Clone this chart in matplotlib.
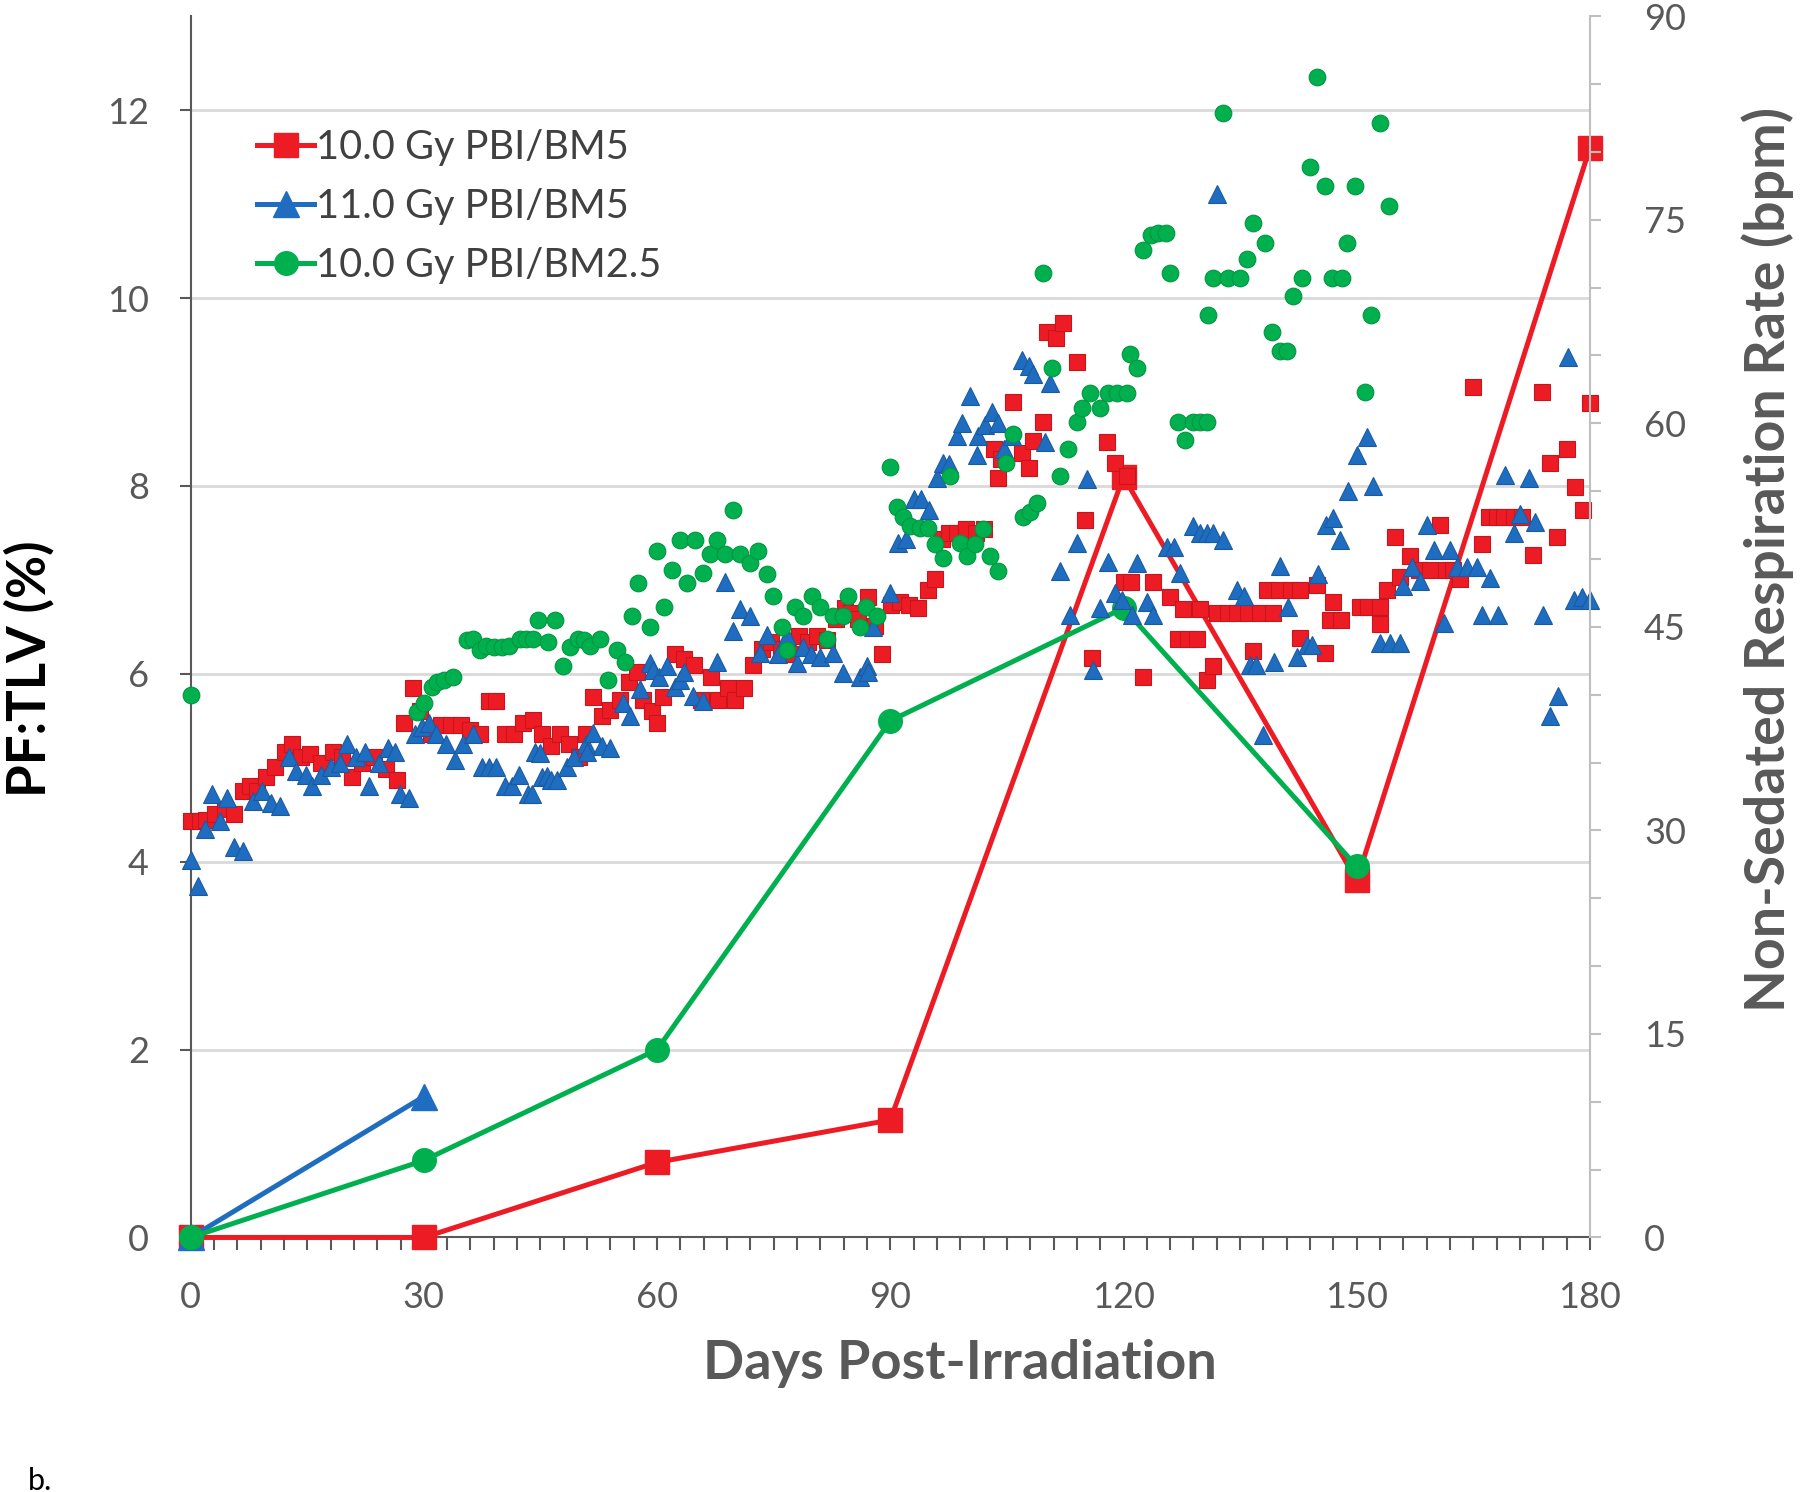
import matplotlib
matplotlib.use("Agg")
import matplotlib.pyplot as plt
from matplotlib.ticker import MultipleLocator

plt.rcParams['font.family'] = ['Lato', 'DejaVu Sans']

# PF:TLV (%) lines, left axis
line_days = [0, 30, 60, 90, 120, 150, 180]
red_pf = [0, 0, 0.8, 1.25, 8.1, 3.8, 11.6]
blue_pf = [0, 1.5]
green_pf = [0, 0.82, 2.0, 5.5, 6.7, 3.95]

# respiration rate (bpm), right axis
red_days = [0, 1.2, 2, 3.2, 4.4, 5.6, 6.8, 7.7, 8.6, 9.7, 10.9, 12.1, 13, 14.2, 15.4, 16.8, 18.3, 19.5,
            20.7, 22.1, 23.6, 25.1, 26.6, 27.5, 28.6, 29.5, 30.9, 32.2, 33.5, 34.8, 36, 37.2, 38.4, 39.3,
            40.5, 41.6, 42.8, 44, 45.2, 46.4, 47.5, 48.7, 49.9, 50.8, 51.7, 52.9, 54, 55.2, 56.4, 57.4,
            58.2, 59.4, 60, 60.8, 62.3, 63.5, 64.7, 65.6, 67, 67.9, 69.1, 70, 71.2, 72.3, 73.5, 74.7,
            75.9, 77.1, 78.3, 79.4, 80.6, 81.8, 83, 84.2, 85, 85.9, 87.1, 88, 88.9, 90.1, 91.3, 92.4,
            93.6, 94.8, 95.7, 96.6, 97.5, 98.6, 99.8, 101, 102.1, 103.4, 103.8, 104.3, 105.8, 106.9,
            107.8, 108.4, 109.7, 110.2, 111.3, 112.2, 114, 115.1, 115.9, 117.9, 118.9, 120.4, 120,
            121, 122.5, 123.8, 126, 127, 127.7, 128.3, 129.5, 129.8, 130.8, 131.5, 132, 133.5, 134.6,
            136, 136.7, 137.5, 138.4, 139.2, 140, 141.5, 142.7, 142.7, 144.9, 145.9, 146.6, 147, 148,
            150.4, 151.5, 153, 153, 153.9, 154.9, 155.6, 156.9, 158, 159.4, 160.7, 161.5, 162.4, 163.3,
            165, 166.1, 167, 168, 169, 170.2, 171.3, 172.7, 173.8, 174.9, 175.8, 177, 178.1, 179.1, 180]
red_bpm = [30.7, 30.7, 30.8, 31.2, 31.6, 31.2, 32.9, 33.3, 32.9, 33.9, 34.7, 35.8, 36.4, 35.4, 35.6, 35, 35.8, 35.4,
           33.9, 35, 35.4, 34.5, 33.7, 37.9, 40.5, 38.8, 37.1, 37.8, 37.8, 37.8, 37.4, 37.1, 39.5, 39.5,
           37.1, 37.1, 37.9, 38.1, 37.1, 36.2, 37.1, 36.4, 35.4, 37.1, 39.8, 38.4, 38.9, 39.6, 40.9, 41.7,
           39.6, 38.8, 37.9, 39.8, 43, 42.6, 42.2, 39.6, 41.3, 39.6, 40.5, 39.6, 40.5, 42.2, 43.4, 43.9,
           43.4, 43, 44.3, 43.9, 44.3, 44, 45.6, 46.4, 46, 45.6, 47.2, 45.1, 43, 46.6, 46.8, 46.6,
           46.4, 47.7, 48.5, 51.5, 51.9, 51.9, 52.2, 51.9, 52.2, 58.1, 56, 57.4, 61.6, 57.8,
           56.7, 58.7, 60.1, 66.7, 66.3, 67.4, 64.5, 52.9, 42.7, 58.6, 57.1, 56.1, 48.3,
           48.3, 41.3, 48.3, 47.2, 44.1, 46.3, 44.1, 44.1, 46.3, 41.1, 42.1, 46, 46, 46,
           46, 43.2, 46, 47.7, 46, 47.7, 47.7, 44.2, 47.7, 48.1, 43.1, 45.5, 46.8, 45.5,
           46.5, 46.5, 46.5, 45.2, 47.7, 51.6, 48.7, 50.2, 49.2, 49.2, 52.5, 49.2, 49.2, 48.5,
           62.7, 51.1, 53.1, 53.1, 53.1, 53.1, 53.1, 50.3, 62.3, 57.1, 51.6, 58.1, 55.3, 53.6, 61.5]

blue_days = [0, 0.9, 1.8, 2.7, 3.8, 4.7, 5.6, 6.8, 8, 9.2, 10.3, 11.5, 12.7, 13.6, 14.8, 15.6, 16.8, 18,
             19.2, 20.1, 21.3, 22.4, 23, 24.2, 25.4, 26.3, 26.9, 28.1, 28.9, 29.8, 30.7, 31.6, 32.8, 34,
             35.1, 36.3, 37.5, 38.4, 39.3, 40.5, 41.3, 42.2, 43.4, 43.9, 44.3, 45, 45.2, 45.8, 46.4, 47.1,
             48.4, 49.3, 50.8, 51, 51.8, 52.9, 54, 55.6, 56.5, 57.8, 59.1, 59.5, 60.2, 61.3, 62.3, 63,
             63.5, 64.6, 65.9, 67.7, 68.7, 69.8, 70.7, 72, 73.3, 74.2, 75.5, 76.7, 78, 78.8, 79.8, 81,
             82.6, 83.9, 86.1, 87, 87.1, 87.8, 90, 91, 92, 93, 94, 95, 96, 96.8, 97.5, 98.6, 99.2, 100.2,
             101.1, 101.3, 102.2, 103.1, 103.8, 104.6, 105.7, 106.9, 107.8, 108.4, 109.9, 110.6, 111.8,
             113.1, 114, 115.3, 116.1, 117, 118, 118.9, 119.8, 121.1, 121.7, 123, 123.8, 125.6, 126.5,
             127.3, 129, 129.8, 130.7, 131.5, 132, 132.8, 134.6, 135.5, 136.3, 137, 138, 139.3, 140.1,
             141.2, 142.3, 143.6, 144.3, 145, 146.1, 146.9, 147.8, 148.9, 150, 151.3, 152.1, 153, 154.3,
             155.6, 156, 157.1, 158.2, 159, 159.9, 161.2, 162, 162.9, 164.2, 165.5, 166.1, 167.1, 168.2,
             169.1, 170.2, 171, 172.1, 172.9, 174, 174.9, 175.9, 177.2, 177.9, 179, 180]
blue_bpm = [27.8, 25.9, 30.1, 32.7, 30.7, 32.4, 28.8, 28.5, 32.2, 32.9, 32, 31.8, 35.4, 34.4, 34.1, 33.3, 34.1, 34.7,
            35, 36.4, 35.4, 35.8, 33.3, 35, 36.1, 35.8, 32.7, 32.4, 37.1, 37.6, 37.9, 37.1, 36.4, 35.2,
            36.4, 37.1, 34.7, 34.7, 34.7, 33.3, 33.3, 34.1, 32.7, 32.7, 35.8, 35.7, 33.9, 34, 33.7, 33.7,
            34.7, 35.4, 36.4, 35.8, 37.2, 36.2, 36.1, 39.4, 38.4, 40.4, 42.3, 41.8, 41.3, 42.1, 40.6, 41.1,
            41.7, 39.9, 39.5, 42.4, 48.3, 44.7, 46.3, 45.8, 43.1, 44.4, 43, 44.3, 42.3, 43.5, 43, 42.8,
            43.1, 41.6, 41.3, 42.1, 41.7, 45, 47.5, 51.2, 51.5, 54.4, 54.4, 53.6, 56, 57.1, 57, 59.1, 60, 62,
            57.7, 59.1, 59.9, 60.8, 60, 58.1, 59.1, 64.7, 64.2, 63.6, 58.6, 63, 49.1,
            45.9, 51.2, 55.9, 41.8, 46.4, 49.8, 47.5, 47, 45.9, 49.7, 46.8, 45.9, 50.9, 50.9,
            49, 52.4, 51.9, 51.9, 51.9, 76.9, 51.4, 47.7, 47.3, 42.2, 42.2, 37, 42.4, 49.5,
            46.5, 42.8, 43.7, 43.7, 48.9, 52.5, 53, 51.4, 55, 57.7, 59, 55.4, 43.8, 43.8,
            43.8, 48, 49.4, 48.4, 52.5, 50.7, 45.3, 50.7, 49.4, 49.4, 49.4, 45.9, 48.6, 45.9,
            56.2, 51.9, 53.3, 56, 52.7, 45.9, 38.4, 39.9, 64.9, 47, 47.2, 47]

green_days = [0, 29.1, 30, 31, 31.7, 32.6, 33.8, 35.5, 36.3, 37.2, 38, 39, 40, 41, 42.4, 43.2, 44, 44.7, 46,
              46.9, 47.9, 48.8, 49.8, 50.6, 51.4, 52.7, 53.7, 54.8, 55.9, 56.8, 57.6, 59.1, 60, 60.9, 61.9,
              63, 63.8, 64.9, 65.9, 66.8, 67.7, 68.7, 69.8, 70.7, 72, 73, 74.1, 74.9, 76.1, 76.7, 77.7,
              78.8, 79.9, 81, 81.8, 82.6, 83.9, 84.6, 86.1, 86.9, 88.3, 90, 90.9, 91.7, 92.6, 93.8, 94.8,
              95.7, 96.8, 97.7, 99, 99.9, 100.9, 101.9, 102.8, 103.9, 104.9, 105.8, 107.1, 108, 108.9,
              109.7, 110.8, 111.8, 112.9, 114, 114.7, 115.7, 117, 118, 119.2, 120.4, 120.8, 121.7, 122.5,
              123.5, 124.5, 125.5, 126, 127, 127.9, 129, 129.8, 130.7, 130.9, 131.5, 132.8, 133.5, 135,
              135.9, 136.7, 138.2, 139.1, 140.1, 141, 141.8, 142.9, 144, 144.9, 145.9, 146.8, 148.1,
              148.7, 149.8, 151.1, 151.9, 153, 154.1]
green_bpm = [40, 38.7, 39.4, 40.6, 40.9, 41.1, 41.3, 44, 44.1, 43.3, 43.6, 43.5, 43.5, 43.6, 44.1, 44.1, 44.1, 45.5, 43.9,
             45.5, 42.1, 43.5, 44.1, 44, 43.6, 44.1, 41.1, 43.3, 42.4, 45.8, 48.2, 45, 50.6, 46.5, 49.2,
             51.4, 48.2, 51.4, 49, 50.4, 51.4, 50.4, 53.6, 50.4, 49.7, 50.6, 48.9, 47.3, 45, 43.3, 46.5,
             45.8, 47.3, 46.5, 44.1, 45.8, 45.8, 47.3, 45, 46.5, 45.8, 56.8, 53.8, 53.1, 52.4, 52.3, 52.3,
             51.1, 50.1, 56.1, 51.2, 50.2, 51.1, 52.2, 50.2, 49.1, 57.1, 59.2, 53.1, 53.5, 54.1,
             71.1, 64.1, 56.1, 58.1, 60.1, 61.1, 62.2, 61.1, 62.2, 62.2, 62.2, 65.1, 64.1, 72.8,
             73.9, 74, 74, 71.1, 60.1, 58.8, 60.1, 60.1, 60.1, 68, 70.7, 82.9, 70.7, 70.7,
             72.1, 74.8, 73.3, 66.7, 65.3, 65.3, 69.4, 70.7, 78.9, 85.5, 77.5, 70.7, 70.7,
             73.3, 77.5, 62.3, 68, 82.1, 76]

labels = ['10.0 Gy PBI/BM5', '11.0 Gy PBI/BM5', '10.0 Gy PBI/BM2.5']
RED = '#ED1C24'
BLUE = '#1F6DC0'
GREEN = '#00B04F'
GREY = '#595959'

fig = plt.figure(figsize=(18, 14.92), dpi=100)
ax = fig.add_axes([0.1059, 0.1706, 0.7774, 0.8185])
ax2 = ax.twinx()

ax.plot(line_days, red_pf, color=RED, lw=3.6, marker='s', ms=17, clip_on=False, label=labels[0], zorder=3)
ax.plot(line_days[:2], blue_pf, color=BLUE, lw=3.6, marker='^', ms=19, clip_on=False, label=labels[1], zorder=3)
ax.plot(line_days[:6], green_pf, color=GREEN, lw=3.6, marker='o', ms=17, clip_on=False, label=labels[2], zorder=3)

ax2.plot(red_days, red_bpm, ls='none', marker='s', ms=11, color=RED, mec='#C8141C', mew=0.8, clip_on=False)
ax2.plot(blue_days, blue_bpm, ls='none', marker='^', ms=13, color=BLUE, mec='#1A5AA0', mew=0.8, clip_on=False)
ax2.plot(green_days, green_bpm, ls='none', marker='o', ms=12, color=GREEN, mec='#00963F', mew=0.8, clip_on=False)

ax.set_xlim(0, 180)
ax.set_ylim(0, 13)
ax2.set_ylim(0, 90)
ax.xaxis.set_major_locator(MultipleLocator(30))
ax.xaxis.set_minor_locator(MultipleLocator(3))
ax.yaxis.set_major_locator(MultipleLocator(2))
ax2.yaxis.set_major_locator(MultipleLocator(15))
ax2.yaxis.set_minor_locator(MultipleLocator(5))

ax.yaxis.grid(True, color='#D9D9D9', lw=2)
ax.set_axisbelow(True)

for s in ['top', 'right']:
    ax.spines[s].set_visible(False)
for s in ['top', 'left', 'bottom']:
    ax2.spines[s].set_visible(False)
ax.spines['left'].set_color(GREY)
ax.spines['bottom'].set_color(GREY)
ax.spines['left'].set_linewidth(1.5)
ax.spines['bottom'].set_linewidth(1.5)
ax2.spines['right'].set_color('#BFBFBF')
ax2.spines['right'].set_linewidth(1.5)

ax.tick_params(axis='x', which='both', direction='out', length=9, width=1.5, color=GREY,
               labelsize=26, labelcolor=GREY, pad=22)
ax.tick_params(axis='y', direction='out', length=8, width=1.5, color=GREY,
               labelsize=26, labelcolor=GREY, pad=22)
ax2.tick_params(axis='y', which='both', direction='out', length=8, width=1.5, color='#BFBFBF',
                labelsize=26, labelcolor=GREY, pad=31)

fig.text(29 / 1800, 1 - 669 / 1492, 'PF:TLV (%)', rotation=90, ha='center', va='center',
         fontsize=38, fontweight='bold', color='black')
fig.text(1768 / 1800, 1 - 559 / 1492, 'Non-Sedated Respiration Rate (bpm)', rotation=90,
         ha='center', va='center', fontsize=40, fontweight='bold', color=GREY)
fig.text(960 / 1800, 1 - 1363 / 1492, 'Days Post-Irradiation', ha='center', va='center',
         fontsize=39, fontweight='bold', color=GREY)
fig.text(28 / 1800, 1 - 1481 / 1492, 'b.', ha='left', va='center', fontsize=22, color='black')

ax.legend(loc='upper left', bbox_to_anchor=(0.036, 0.921), frameon=False, fontsize=28.6,
          handlelength=1.45, handletextpad=0.05, labelspacing=0.56, labelcolor='#404040',
          borderaxespad=0)

fig.savefig('out.png', dpi=100)
